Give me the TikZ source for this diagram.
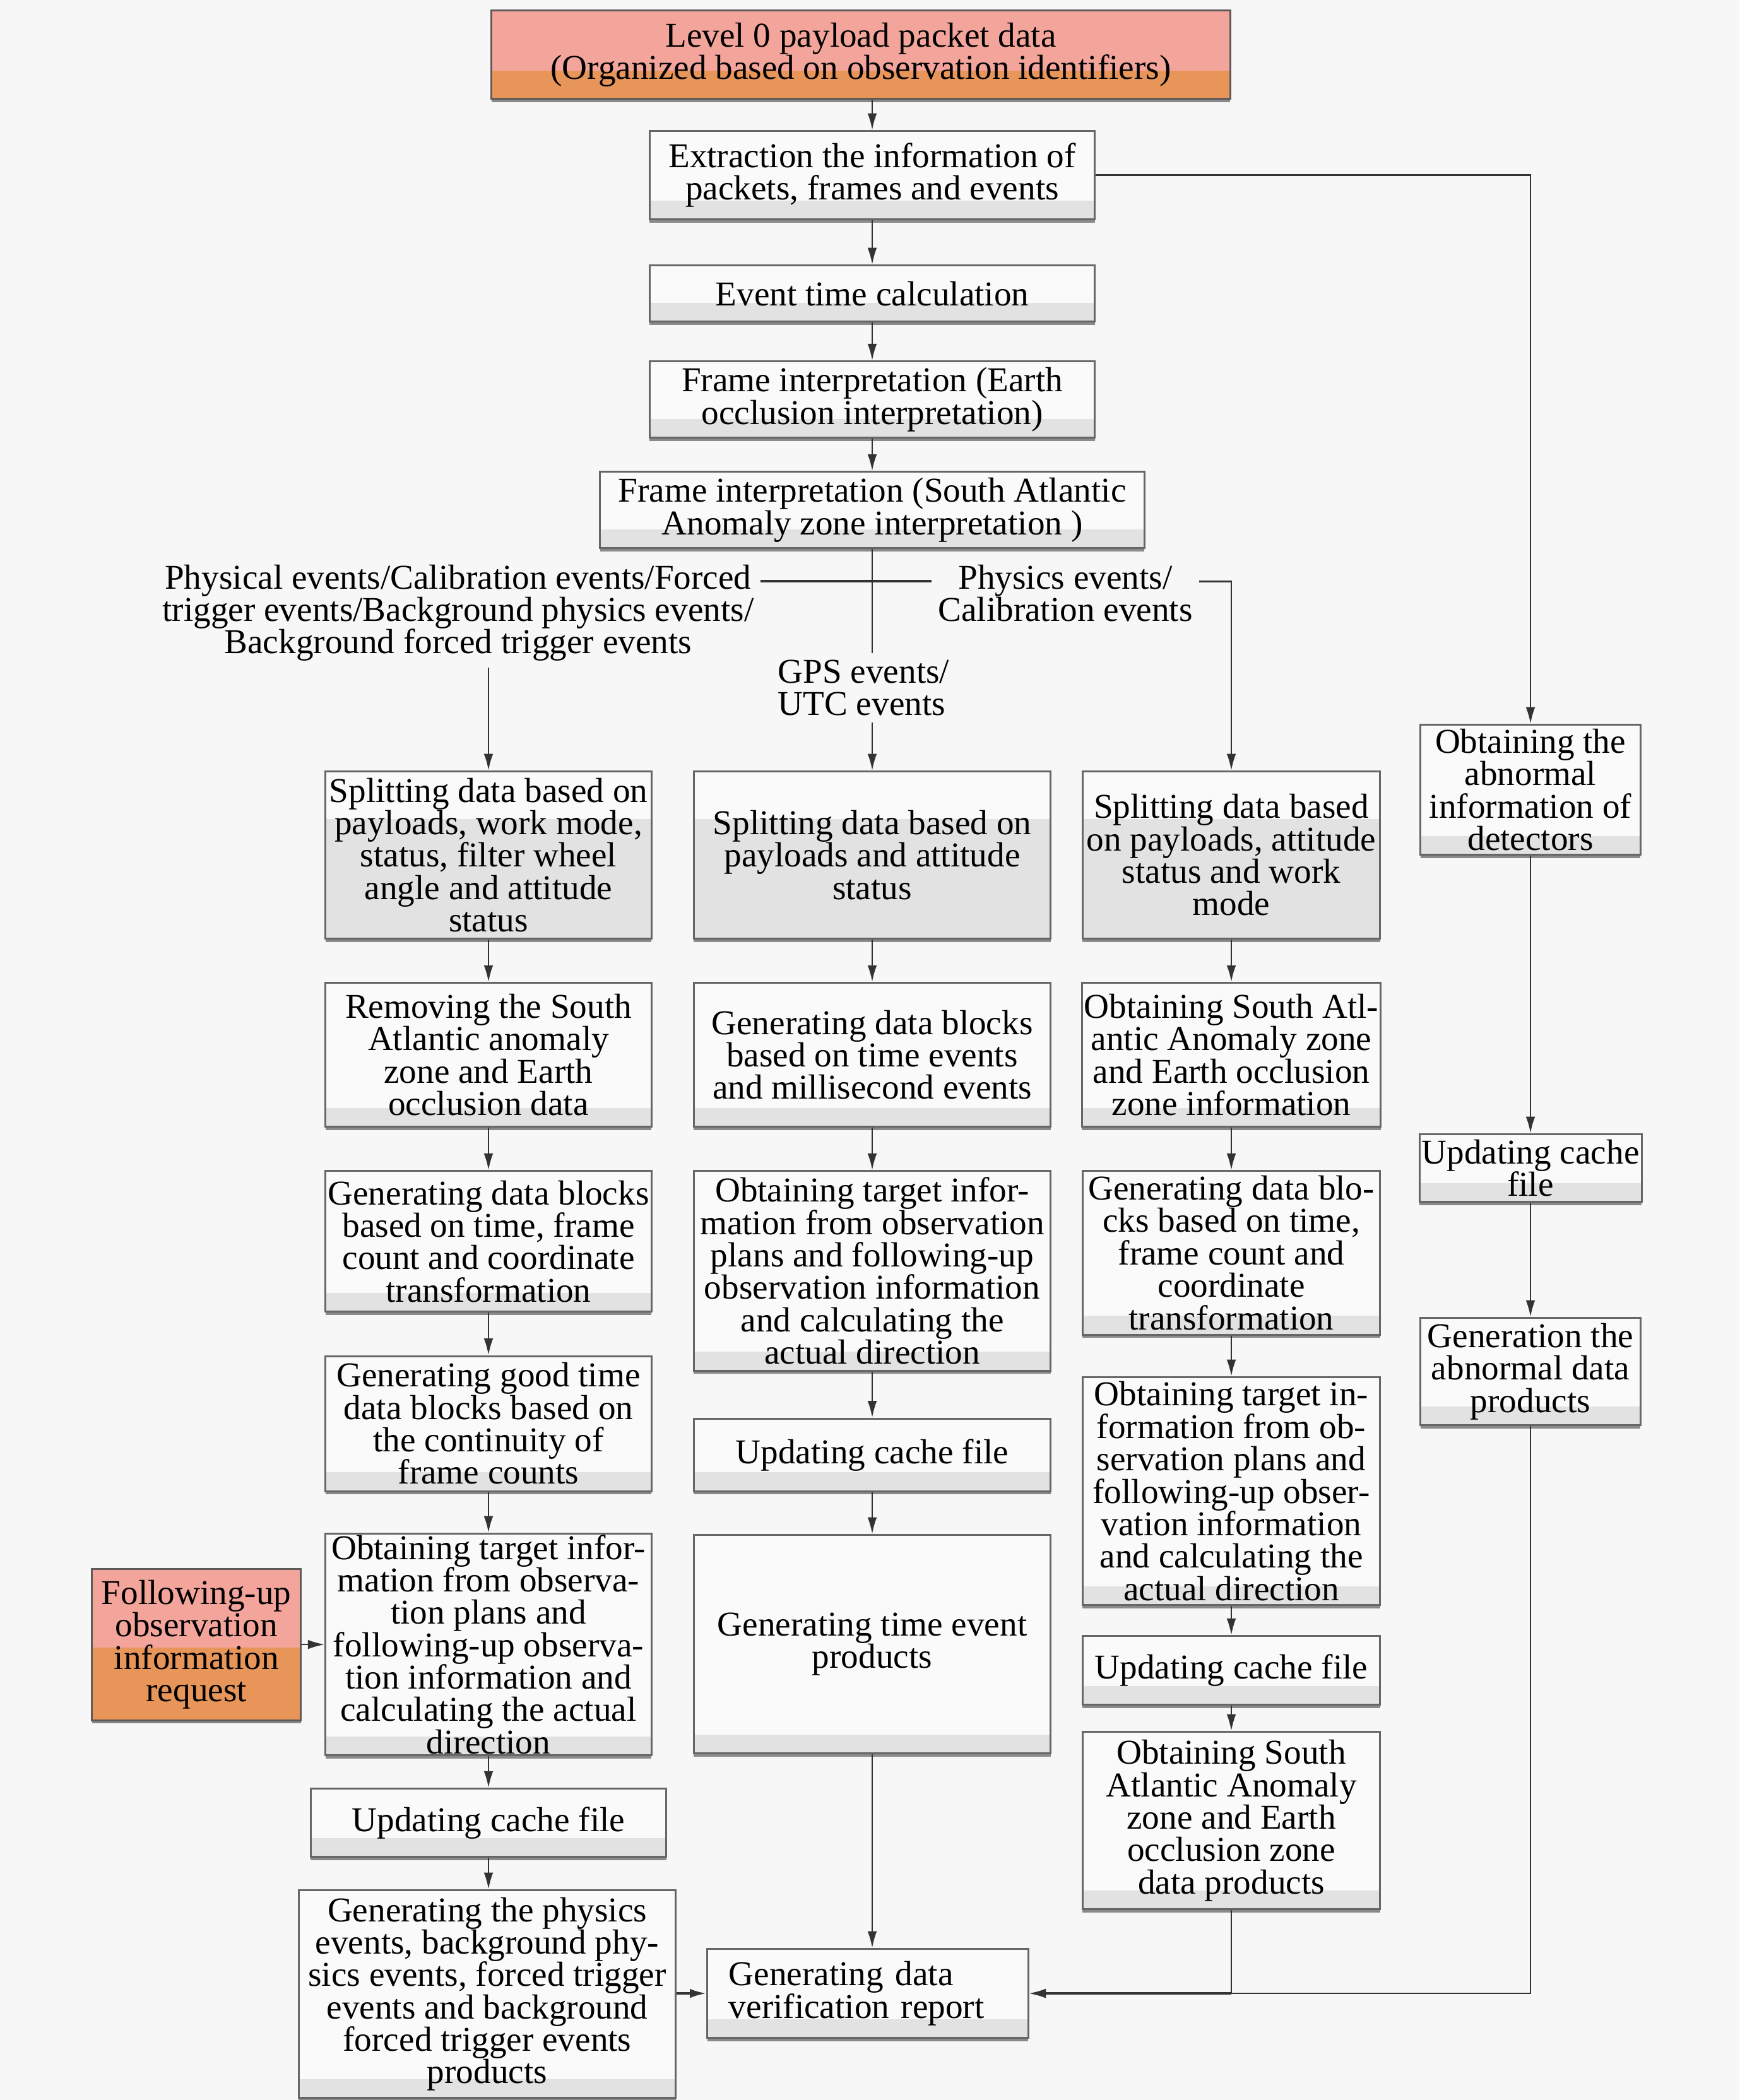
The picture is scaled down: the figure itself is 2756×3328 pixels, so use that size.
\documentclass[tikz,border=0pt]{standalone}
\usepackage{fontspec}
\setmainfont{Liberation Serif}
\usetikzlibrary{positioning, calc, arrows.meta, shadows}
\definecolor{bgcol}{HTML}{F7F7F7}
\definecolor{boxfill}{HTML}{FAFAFA}
\definecolor{bandcol}{HTML}{E2E2E2}
\definecolor{boxline}{HTML}{666666}
\definecolor{shadowcol}{HTML}{8A8A8A}
\definecolor{linecol}{HTML}{333333}
\definecolor{pinkfill}{HTML}{F4A59B}
\definecolor{orangefill}{HTML}{E8955A}
\definecolor{srcline}{HTML}{5E5A58}
\newcommand\boxfont{\fontsize{15.7}{14.6}\selectfont\lineskiplimit=-10pt\relax}
\tikzset{band/.store in=\bandh, bandcolor/.store in=\bandc}
\tikzset{procbox/.style={draw=boxline, line width=0.85pt, fill=boxfill, align=center, inner xsep=1pt, inner ysep=-4pt, font=\boxfont,
    band=0.3cm, bandcolor=bandcol,
    drop shadow={shadow xshift=0pt, shadow yshift=-0.05cm, fill=shadowcol, opacity=1},
    path picture={\fill[color=\bandc] (path picture bounding box.south west) rectangle ([yshift=\bandh]path picture bounding box.south east);}}}
\tikzset{srcbox/.style={procbox, fill=pinkfill, draw=srcline, bandcolor=orangefill}}
\tikzset{lbl/.style={font=\boxfont, align=center, inner sep=0.1cm}}
\tikzset{flow/.style={draw=linecol, line width=0.7pt, ->}, link/.style={draw=linecol, line width=0.7pt}}

\begin{document}
\begin{tikzpicture}[x=0.01cm, y=-0.01cm, >={Latex[length=7.5pt,width=4.2pt]}]
  \fill[bgcol] (0,0) rectangle (2756,3328);
  \useasboundingbox (0,0) rectangle (2756,3328);

  \node[srcbox, band=0.45cm, minimum width=11.70cm, minimum height=1.40cm, anchor=north] (lvl0) at (1364,15)
    {Level 0 payload packet data\\(Organized based on observation identifiers)};

  \node[procbox, minimum width=7.05cm, minimum height=1.40cm, anchor=north] (extract) at (1382,206)
    {Extraction the information of\\packets, frames and events};
  \node[procbox, minimum width=7.05cm, minimum height=0.89cm, below=0.70cm of extract] (evttime) {Event time calculation};
  \node[procbox, minimum width=7.05cm, minimum height=1.21cm, below=0.60cm of evttime] (earth)
    {Frame interpretation (Earth\\occlusion interpretation)};
  \node[procbox, minimum width=8.62cm, minimum height=1.21cm, below=0.51cm of earth] (saa)
    {Frame interpretation (South Atlantic\\Anomaly zone interpretation )};

  \node[lbl, anchor=north east] (lblL) at (1205,884)
    {Physical events/Calibration events/Forced\\trigger events/Background physics events/\\Background forced trigger events};
  \node[lbl, anchor=north] (lblR) at (1688,884) {Physics events/\\Calibration events};
  \node[lbl, align=left, anchor=north west] (lblC) at (1222,1035) {GPS events/\\UTC events};

  \node[procbox, band=1.9cm, minimum width=5.16cm, minimum height=2.65cm, anchor=north] (split1) at (774,1221)
    {Splitting data based on\\payloads, work mode,\\status, filter wheel\\angle and attitude\\status};
  \node[procbox, minimum width=5.16cm, minimum height=2.28cm, below=0.67cm of split1] (remove1)
    {Removing the South\\Atlantic anomaly\\zone and Earth\\occlusion data};
  \node[procbox, minimum width=5.16cm, minimum height=2.23cm, below=0.67cm of remove1] (gen1)
    {Generating data blocks\\based on time, frame\\count and coordinate\\transformation};
  \node[procbox, minimum width=5.16cm, minimum height=2.14cm, below=0.67cm of gen1] (good1)
    {Generating good time\\data blocks based on\\the continuity of\\frame counts};
  \node[procbox, minimum width=5.16cm, minimum height=3.51cm, anchor=north] (target1) at (774,2429)
    {Obtaining target infor-\\mation from observa-\\tion plans and\\following-up observa-\\tion information and\\calculating the actual\\direction};
  \node[procbox, minimum width=5.63cm, minimum height=1.08cm, below=0.50cm of target1] (cache1) {Updating cache file};
  \node[procbox, minimum width=5.97cm, minimum height=3.29cm, anchor=north] (prod1) at (772,2994)
    {Generating the physics\\events, background phy-\\sics events, forced trigger\\events and background\\forced trigger events\\products};
  \node[srcbox, band=1.15cm, minimum width=3.31cm, minimum height=2.40cm, left=0.36cm of target1] (follow)
    {Following-up\\observation\\information\\request};

  \node[procbox, band=1.9cm, minimum width=5.65cm, minimum height=2.65cm, anchor=north] (split2) at (1382,1221)
    {Splitting data based on\\payloads and attitude\\status};
  \node[procbox, minimum width=5.65cm, minimum height=2.28cm, below=0.67cm of split2] (gen2)
    {Generating data blocks\\based on time events\\and millisecond events};
  \node[procbox, minimum width=5.65cm, minimum height=3.16cm, below=0.67cm of gen2] (target2)
    {Obtaining target infor-\\mation from observation\\plans and following-up\\observation information\\and calculating the\\actual direction};
  \node[procbox, minimum width=5.65cm, minimum height=1.15cm, below=0.73cm of target2] (cache2) {Updating cache file};
  \node[procbox, minimum width=5.65cm, minimum height=3.46cm, anchor=north] (time2) at (1382,2431)
    {Generating time event\\products};
  \node[procbox, align=left, text width=4.4cm, inner xsep=0.34cm, minimum height=1.41cm, anchor=north] (verify) at (1375,3087)
    {Generating data\\verification report};

  \node[procbox, band=1.9cm, minimum width=4.71cm, minimum height=2.65cm, anchor=north] (split3) at (1951,1221)
    {Splitting data based\\on payloads, attitude\\status and work\\mode};
  \node[procbox, minimum width=4.71cm, minimum height=2.28cm, below=0.67cm of split3] (saa3)
    {Obtaining South Atl-\\antic Anomaly zone\\and Earth occlusion\\zone information};
  \node[procbox, minimum width=4.71cm, minimum height=2.59cm, below=0.67cm of saa3] (gen3)
    {Generating data blo-\\cks based on time,\\frame count and\\coordinate\\transformation};
  \node[procbox, minimum width=4.71cm, minimum height=3.61cm, anchor=north] (target3) at (1951,2181)
    {Obtaining target in-\\formation from ob-\\servation plans and\\following-up obser-\\vation information\\and calculating the\\actual direction};
  \node[procbox, minimum width=4.71cm, minimum height=1.09cm, below=0.46cm of target3] (cache3) {Updating cache file};
  \node[procbox, minimum width=4.71cm, minimum height=2.81cm, anchor=north] (saaprod3) at (1951,2743)
    {Obtaining South\\Atlantic Anomaly\\zone and Earth\\occlusion zone\\data products};

  \node[procbox, minimum width=3.48cm, minimum height=2.06cm, anchor=north] (abn4) at (2425,1147)
    {Obtaining the\\abnormal\\information of\\detectors};
  \node[procbox, minimum width=3.48cm, minimum height=1.07cm, anchor=north] (cache4) at (2425,1796) {Updating cache\\file};
  \node[procbox, minimum width=3.48cm, minimum height=1.70cm, anchor=north] (abnprod4) at (2425,2087)
    {Generation the\\abnormal data\\products};

  \coordinate (fork) at ($(saa.south)+(0,51)$);

  \draw[flow] (lvl0.south -| extract.north) -- (extract.north);
  \draw[flow] (extract.south) -- (evttime.north);
  \draw[flow] (evttime.south) -- (earth.north);
  \draw[flow] (earth.south) -- (saa.north);
  \draw[flow] (extract.east) -| (abn4.north);

  \draw[link] (saa.south) -- (saa.south |- lblC.north);
  \draw[flow] (saa.south |- lblC.south) -- (split2.north);
  \draw[link, line width=1.1pt] (lblL.east |- fork) -- (lblR.west |- fork);
  \draw[flow] (lblR.east |- fork) -| (split3.north);
  \draw[flow] (split1.north |- lblL.south) -- (split1.north);

  \draw[flow] (split1.south) -- (remove1.north);
  \draw[flow] (remove1.south) -- (gen1.north);
  \draw[flow] (gen1.south) -- (good1.north);
  \draw[flow] (good1.south) -- (target1.north);
  \draw[flow] (target1.south) -- (cache1.north);
  \draw[flow] (cache1.south) -- (cache1.south |- prod1.north);
  \draw[flow] (follow.east) -- (target1.west);
  \draw[flow, line width=1.1pt] (prod1.east |- verify.west) -- (verify.west);

  \draw[flow] (split2.south) -- (gen2.north);
  \draw[flow] (gen2.south) -- (target2.north);
  \draw[flow] (target2.south) -- (cache2.north);
  \draw[flow] (cache2.south) -- (time2.north);
  \draw[flow] (time2.south) -- (time2.south |- verify.north);

  \draw[flow] (split3.south) -- (saa3.north);
  \draw[flow] (saa3.south) -- (gen3.north);
  \draw[flow] (gen3.south) -- (target3.north);
  \draw[flow] (target3.south) -- (cache3.north);
  \draw[flow] (cache3.south) -- (saaprod3.north);

  \draw[flow] (abn4.south) -- (cache4.north);
  \draw[flow] (cache4.south) -- (abnprod4.north);
  \draw[flow] (abnprod4.south) |- (verify.east);
  \draw[link] (saaprod3.south) -- (saaprod3.south |- verify.east);
  \draw[flow, line width=1.1pt] (saaprod3.south |- verify.east) -- (verify.east);
\end{tikzpicture}
\end{document}
